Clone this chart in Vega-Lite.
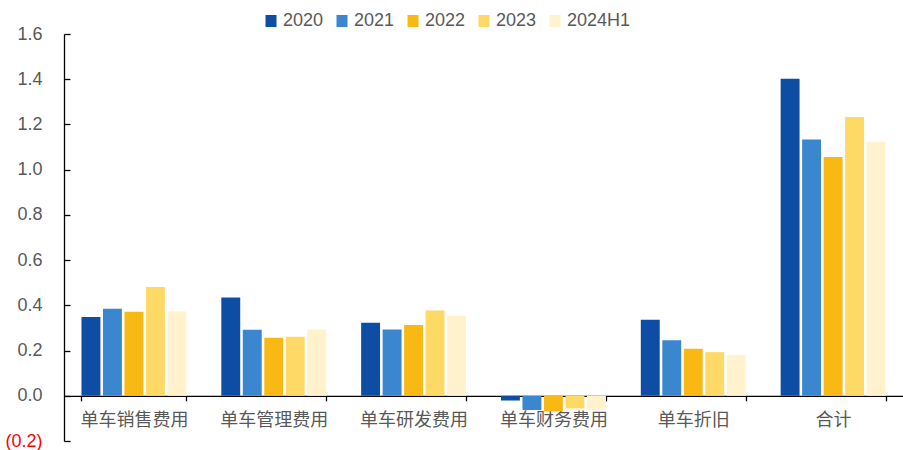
{
  "$schema": "https://vega.github.io/schema/vega-lite/v6.json",
  "width": 839,
  "height": 407,
  "autosize": {"type": "none"},
  "padding": {"left": 64, "top": 34, "right": 0, "bottom": 9},
  "background": "white",
  "config": {"view": {"stroke": null}, "font": "Liberation Sans"},
  "data": {
    "values": [
      {"item": "单车销售费用", "year": "2020", "value": 0.348},
      {"item": "单车销售费用", "year": "2021", "value": 0.385},
      {"item": "单车销售费用", "year": "2022", "value": 0.372},
      {"item": "单车销售费用", "year": "2023", "value": 0.481},
      {"item": "单车销售费用", "year": "2024H1", "value": 0.373},
      {"item": "单车管理费用", "year": "2020", "value": 0.435},
      {"item": "单车管理费用", "year": "2021", "value": 0.292},
      {"item": "单车管理费用", "year": "2022", "value": 0.257},
      {"item": "单车管理费用", "year": "2023", "value": 0.261},
      {"item": "单车管理费用", "year": "2024H1", "value": 0.293},
      {"item": "单车研发费用", "year": "2020", "value": 0.323},
      {"item": "单车研发费用", "year": "2021", "value": 0.293},
      {"item": "单车研发费用", "year": "2022", "value": 0.313},
      {"item": "单车研发费用", "year": "2023", "value": 0.377},
      {"item": "单车研发费用", "year": "2024H1", "value": 0.354},
      {"item": "单车财务费用", "year": "2020", "value": -0.021},
      {"item": "单车财务费用", "year": "2021", "value": -0.063},
      {"item": "单车财务费用", "year": "2022", "value": -0.069},
      {"item": "单车财务费用", "year": "2023", "value": -0.056},
      {"item": "单车财务费用", "year": "2024H1", "value": -0.062},
      {"item": "单车折旧", "year": "2020", "value": 0.336},
      {"item": "单车折旧", "year": "2021", "value": 0.246},
      {"item": "单车折旧", "year": "2022", "value": 0.208},
      {"item": "单车折旧", "year": "2023", "value": 0.193},
      {"item": "单车折旧", "year": "2024H1", "value": 0.18},
      {"item": "合计", "year": "2020", "value": 1.402},
      {"item": "合计", "year": "2021", "value": 1.133},
      {"item": "合计", "year": "2022", "value": 1.056},
      {"item": "合计", "year": "2023", "value": 1.233},
      {"item": "合计", "year": "2024H1", "value": 1.124}
    ]
  },
  "mark": {"type": "bar"},
  "encoding": {
    "x": {
      "field": "item",
      "type": "nominal",
      "sort": ["单车销售费用", "单车管理费用", "单车研发费用", "单车财务费用", "单车折旧", "合计"],
      "scale": {"paddingInner": 0.25, "paddingOuter": 0.125},
      "axis": {
        "title": null,
        "labelAngle": 0,
        "offset": -45.2,
        "domainColor": "#000000",
        "domainWidth": 1.3,
        "tickColor": "#000000",
        "tickWidth": 1.3,
        "tickSize": 5,
        "tickBand": "extent",
        "labelFont": "Noto Sans CJK SC",
        "labelFontSize": 18,
        "labelColor": "#595959",
        "labelPadding": 11,
        "labelOverlap": false,
        "labelLimit": 200
      }
    },
    "xOffset": {
      "field": "year",
      "type": "nominal",
      "sort": ["2020", "2021", "2022", "2023", "2024H1"],
      "scale": {"paddingInner": 0.12, "paddingOuter": 0}
    },
    "y": {
      "field": "value",
      "type": "quantitative",
      "scale": {"domain": [-0.2, 1.6], "nice": false, "zero": false},
      "axis": {
        "title": null,
        "grid": false,
        "values": [-0.2, 0, 0.2, 0.4, 0.6, 0.8, 1.0, 1.2, 1.4, 1.6],
        "domainColor": "#000000",
        "domainWidth": 1.3,
        "tickColor": "#000000",
        "tickWidth": 1.3,
        "tickSize": -6,
        "labelExpr": "datum.value < 0 ? '(' + format(-datum.value, '.1f') + ')' : format(datum.value, '.1f')",
        "labelColor": {"condition": {"test": "datum.value < 0", "value": "#FF0000"}, "value": "#595959"},
        "labelFontSize": 18,
        "labelPadding": 28,
        "labelOverlap": false
      }
    },
    "color": {
      "field": "year",
      "type": "nominal",
      "sort": ["2020", "2021", "2022", "2023", "2024H1"],
      "scale": {
        "domain": ["2020", "2021", "2022", "2023", "2024H1"],
        "range": ["#0D4EA4", "#3A87CF", "#F9B914", "#FFD966", "#FFF2CC"]
      },
      "legend": {
        "orient": "none",
        "legendX": 198,
        "legendY": -22,
        "direction": "horizontal",
        "title": null,
        "symbolType": "M-0.917,-1H0.917V1H-0.917Z",
        "symbolSize": 144,
        "symbolStrokeWidth": 0,
        "labelFontSize": 18,
        "labelColor": "#595959",
        "columnPadding": 9,
        "labelOffset": 3
      }
    }
  }
}
